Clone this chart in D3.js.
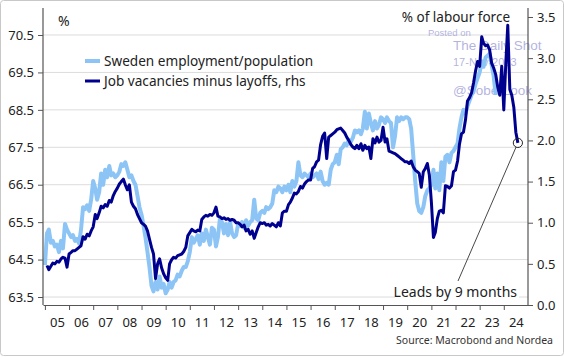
<!DOCTYPE html>
<html><head><meta charset="utf-8">
<script src="https://cdn.jsdelivr.net/npm/d3@7"></script>
<style>
html,body{margin:0;padding:0;background:#fff;}
svg{display:block;font-family:"Noto Sans",sans-serif;}
</style></head>
<body><svg id="c" width="564" height="357"></svg>
<script>
// ---- data ----
// Sweden employment/population (%), monthly from Jan 2005
const empStart = [2005, 0];
const empValues = [
 64.35,65.2,65.3,64.95,65.0,64.85,64.9,64.7,65.0,64.8,65.45,65.3,
 65.2,65.1,65.15,65.0,65.05,64.93,65.3,65.9,65.85,65.95,65.8,66.1,
 66.6,66.4,66.1,66.3,66.8,66.5,66.9,66.7,67.0,66.75,66.8,66.7,
 66.75,66.85,67.05,67.0,67.1,66.9,66.7,66.75,66.6,66.5,66.2,65.9,
 65.7,65.4,65.1,64.7,64.3,63.8,63.65,63.9,63.7,64.05,63.75,63.85,
 63.6,63.7,63.9,63.75,63.9,63.95,64.1,64.05,64.2,64.3,64.3,64.45,
 64.7,65.1,64.95,65.05,65.15,64.9,65.2,65.0,65.3,65.1,64.9,65.35,
 65.3,64.85,65.1,65.6,65.5,65.2,65.45,65.15,65.5,65.2,65.1,65.15,
 65.45,65.4,65.5,65.35,65.55,65.4,65.5,65.55,66.1,65.6,65.55,65.75,
 65.8,65.75,65.9,65.85,65.9,66.0,66.35,66.3,66.45,66.4,66.3,66.45,
 66.35,66.5,66.3,66.6,66.45,66.6,67.1,66.75,66.7,66.8,66.75,66.7,
 66.8,66.7,66.75,66.8,66.65,66.85,66.6,66.5,66.55,66.5,66.9,67.05,
 67.1,67.3,67.05,67.45,67.5,67.6,67.55,67.7,67.65,67.75,67.95,67.9,
 67.95,67.85,68.0,68.45,68.0,68.4,68.15,67.95,68.2,68.0,68.1,68.3,
 68.25,68.15,68.3,68.2,68.15,67.5,67.8,68.3,68.2,68.3,68.25,68.3,
 68.3,68.25,68.0,67.3,66.6,66.0,65.8,65.75,65.9,66.2,66.35,66.4,
 66.5,66.9,66.4,66.8,66.35,67.1,66.6,67.25,67.3,67.1,67.35,67.4,
 67.5,67.6,68.0,68.3,68.5,68.4,68.6,68.75,68.9,69.0,69.2,69.35,
 69.5,69.8,69.65,69.9,69.95,70.0,69.7,69.4,68.9
];
// Job vacancies minus layoffs (% of labour force), shifted 9 months, monthly from Feb 2005
const vacStart = [2005, 1];
const vacValues = [
 0.48,0.43,0.47,0.51,0.50,0.53,0.52,0.56,0.58,0.57,0.46,
 0.62,0.64,0.66,0.66,0.68,0.70,0.72,0.83,0.80,0.86,0.84,0.90,
 0.95,1.10,1.05,1.12,1.20,1.18,1.22,1.20,1.27,1.25,1.33,1.38,
 1.42,1.47,1.50,1.53,1.46,1.40,1.46,1.25,1.20,1.17,1.10,1.05,
 1.00,0.98,0.96,0.90,0.80,0.70,0.62,0.32,0.50,0.56,0.45,0.38,
 0.33,0.30,0.50,0.55,0.58,0.57,0.60,0.61,0.62,0.65,0.70,0.84,
 0.88,0.92,0.90,0.89,0.91,0.90,1.04,1.07,1.09,1.08,1.10,1.09,
 1.12,1.19,1.08,1.07,1.05,1.06,1.04,1.05,1.03,1.04,1.03,1.00,
 1.00,0.98,0.95,0.97,0.90,0.92,0.86,0.90,0.81,0.88,0.95,1.00,
 0.99,1.00,0.97,0.98,0.96,0.99,0.97,0.95,1.00,0.96,1.12,1.14,
 1.14,1.22,1.25,1.30,1.36,1.35,1.38,1.44,1.42,1.47,1.50,1.52,
 1.52,1.66,1.68,1.74,1.76,1.95,2.05,2.09,1.78,2.04,2.06,2.08,
 2.10,2.13,2.14,2.15,2.12,2.09,2.04,2.00,1.95,1.92,1.90,1.94,
 1.90,1.96,1.88,1.94,1.90,1.92,1.78,2.02,1.97,2.04,1.98,2.00,
 2.16,1.98,2.02,1.87,1.86,1.85,1.84,1.82,1.80,1.78,1.76,1.74,
 1.74,1.72,1.75,1.68,1.64,1.62,1.60,1.43,1.62,1.66,1.72,1.58,
 1.25,0.82,0.88,1.05,1.14,1.15,1.12,1.45,1.44,1.42,1.45,1.62,
 1.64,1.75,1.95,2.08,2.10,2.25,2.48,2.52,2.58,2.70,2.85,2.96,
 2.90,3.26,3.18,3.15,3.16,3.10,2.94,2.88,2.80,2.65,2.55,2.90,
 2.37,2.95,3.40,2.62,2.55,2.40,2.10,1.97
];
const leftTicks = [63.5,64.5,65.5,66.5,67.5,68.5,69.5,70.5];
const rightTicks = [0,0.5,1.0,1.5,2.0,2.5,3.0,3.5];
const yearTicks = d3.range(2005, 2025);
const seriesNames = ["Sweden employment/population", "Job vacancies minus layoffs, rhs"];
const colors = ["#8cc4f6", "#00008f"];

// ---- build ----
const toDates = (start, vals) => vals.map((v,i)=>({d:new Date(start[0], start[1]+i, 1), v}));
const emp = toDates(empStart, empValues);
const vac = toDates(vacStart, vacValues);

const svg = d3.select("#c");
const L = 43, R = 528, T = 8, B = 305;
const x = d3.scaleTime().domain([new Date(2004,11,3), new Date(2025,0,1)]).range([L, R]);
const yL = d3.scaleLinear().domain([63.5 - 8/37.43, 70.5 + 27/37.43]).range([B, T]);
const yR = d3.scaleLinear().domain([0, 3.5 + 9/82.29]).range([B, T]);

// frame
svg.append("rect").attr("x",0.5).attr("y",0.5).attr("width",563).attr("height",355)
  .attr("rx",3).attr("fill","#fff").attr("stroke","#c8c8c8");

// gridlines
svg.append("g").selectAll("line").data(leftTicks).join("line")
  .attr("x1",L).attr("x2",R).attr("y1",d=>yL(d)).attr("y2",d=>yL(d))
  .attr("stroke","#dcdcdc").attr("stroke-width",1);

// watermark
const wm = svg.append("g").attr("fill","#9a9ad6").attr("fill-opacity",0.75)
  .attr("font-family","'Liberation Sans',Arial,sans-serif");
wm.append("text").attr("x",428).attr("y",36).attr("font-size",9.5).text("Posted on");
wm.append("text").attr("x",453).attr("y",50).attr("font-size",13.5).text("The Daily Shot");
wm.append("text").attr("x",453).attr("y",66).attr("font-size",11).text("17-Nov-2023");
wm.append("text").attr("x",453).attr("y",95).attr("font-size",13.5).text("@SoberLook");

// lines
const lineL = d3.line().x(d=>x(d.d)).y(d=>yL(d.v));
const lineR = d3.line().x(d=>x(d.d)).y(d=>yR(d.v));
svg.append("path").datum(emp).attr("d",lineL).attr("fill","none")
  .attr("stroke",colors[0]).attr("stroke-width",4).attr("stroke-linejoin","round");
svg.append("path").datum(vac).attr("d",lineR).attr("fill","none")
  .attr("stroke",colors[1]).attr("stroke-width",3).attr("stroke-linejoin","round");

// axes
const axCol = "#555";
const gl = svg.append("g").attr("transform",`translate(${L},0)`)
  .call(d3.axisLeft(yL).tickValues(leftTicks).tickFormat(d3.format(".1f")).tickSize(5).tickPadding(4));
const gr = svg.append("g").attr("transform",`translate(${R},0)`)
  .call(d3.axisRight(yR).tickValues(rightTicks).tickFormat(d3.format(".1f")).tickSize(5).tickPadding(4));
const gb = svg.append("g").attr("transform",`translate(0,${B})`)
  .call(d3.axisBottom(x).tickValues(yearTicks.map(y=>new Date(y,0,1))).tickFormat("").tickSize(5).tickSizeOuter(0));
const gbl = svg.append("g").attr("transform",`translate(0,${B})`)
  .call(d3.axisBottom(x).tickValues(yearTicks.map(y=>new Date(y,6,1))).tickFormat(d3.timeFormat("%y")).tickSize(0).tickPadding(13));
gbl.select(".domain").remove();
[gl,gr,gb].forEach(g=>{
  g.select(".domain").attr("stroke",axCol).attr("stroke-width",1.2);
  g.selectAll(".tick line").attr("stroke",axCol);
});
[gl,gr,gbl].forEach(g=>g.selectAll("text").attr("font-size",13).attr("fill","#222")
  .attr("font-family","'Noto Sans',sans-serif"));
gl.select(".domain").attr("d",`M0,${T}V${B}`);
gr.select(".domain").attr("d",`M0,${T}V${B}`);

// unit labels
svg.append("text").attr("x",58).attr("y",26).attr("font-size",14).attr("fill","#222").text("%");
svg.append("text").attr("x",510).attr("y",22).attr("text-anchor","end").attr("font-size",13.5)
  .attr("fill","#222").text("% of labour force");

// legend
const lg = svg.append("g");
seriesNames.forEach((n,i)=>{
  const yy = 61 + i*20;
  lg.append("line").attr("x1",85).attr("x2",100).attr("y1",yy).attr("y2",yy)
    .attr("stroke",colors[i]).attr("stroke-width",i===0?4:3);
  lg.append("text").attr("x",104).attr("y",yy+5).attr("font-size",13.6).attr("fill","#222").text(n);
});

// annotation
const last = vac[vac.length-1];
const cx = x(last.d), cy = yR(last.v);
const lx = 458, ly = 281;
const ang = Math.atan2(ly-cy, lx-cx);
svg.append("line").attr("x1",cx+4.6*Math.cos(ang)).attr("y1",cy+4.6*Math.sin(ang))
  .attr("x2",lx).attr("y2",ly).attr("stroke","#333").attr("stroke-width",0.9);
svg.append("circle").attr("cx",cx).attr("cy",cy).attr("r",4.6)
  .attr("fill","none").attr("stroke","#222").attr("stroke-width",1);
svg.append("rect").attr("x",395).attr("y",283).attr("width",124).attr("height",19).attr("fill","#fff");
svg.append("text").attr("x",517).attr("y",297).attr("text-anchor","end").attr("font-size",14)
  .attr("fill","#222").text("Leads by 9 months");

// source
svg.append("text").attr("x",553).attr("y",344).attr("text-anchor","end").attr("font-size",10.5)
  .attr("fill","#333").text("Source: Macrobond and Nordea");
</script></body></html>
